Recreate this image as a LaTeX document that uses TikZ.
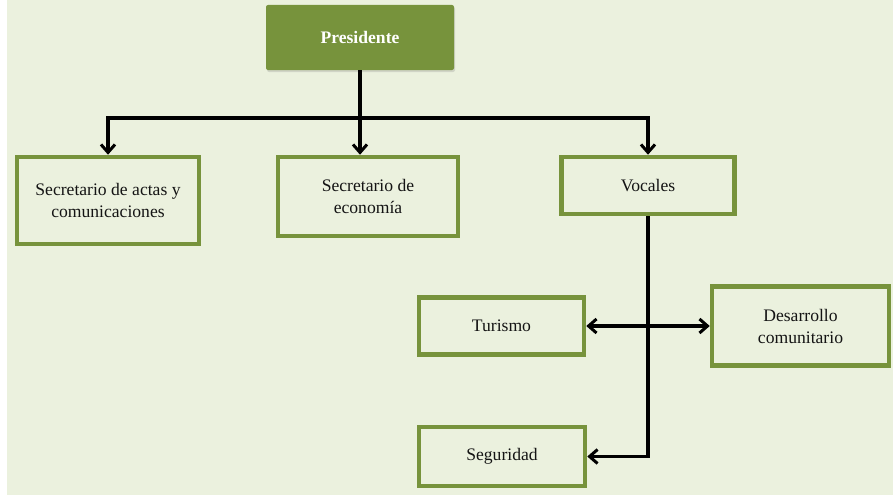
\documentclass[tikz,border=0pt]{standalone}
\usepackage{fontspec}
\setmainfont{Liberation Serif}
\usetikzlibrary{arrows.meta,shadows}

\definecolor{fondo}{HTML}{EBF1DE}
\definecolor{oliva}{HTML}{77933C}
\definecolor{texto}{HTML}{141414}

\begin{document}
\begin{tikzpicture}[x=1pt,y=-1pt,
        caja/.style={draw=oliva,line width=4.5pt,fill=fondo,text=texto,align=center,
            inner sep=0pt,font=\fontsize{17.6}{22}\selectfont,
            drop shadow={shadow xshift=1pt,shadow yshift=-2pt,opacity=0.25}},
        jefe/.style={fill=oliva,rounded corners=2pt,text=white,inner sep=0pt,
            font=\fontsize{17.6}{22}\selectfont\bfseries,
            drop shadow={shadow xshift=1pt,shadow yshift=-2pt,opacity=0.25}},
        linea/.style={line width=3.2pt,black,>={Straight Barb[length=8pt,width=14pt,line width=3pt]}}]
                \useasboundingbox (0,0) rectangle (893,495);
                \fill [fondo] (7,0) rectangle (893,495);
                % nodos
                \node [jefe,minimum width=188pt,minimum height=65pt] (pres) at (360,37.5) {Presidente};
                \node [caja,minimum width=182pt,minimum height=87pt] (actas) at (108,200.5) {Secretario de actas y\\comunicaciones};
                \node [caja,minimum width=180pt,minimum height=79pt] (econ) at (368,196.5) {Secretario de\\econom\'ia};
                \node [caja,minimum width=173pt,minimum height=57pt] (vocales) at (648,185.5) {Vocales};
                \node [caja,minimum width=165pt,minimum height=57pt] (turismo) at (501.5,326) {Turismo};
                \node [caja,minimum width=177pt,minimum height=79pt] (desarrollo) at (800.5,326) {Desarrollo\\comunitario};
                \node [caja,minimum width=166pt,minimum height=59pt] (seguridad) at (502,456.5) {Seguridad};
                \coordinate (bus) at (360,118);
                % conectores
                \draw [linea] (pres.south)--(bus);
                \draw [linea,->] (bus)-|(actas.north);
                \draw [linea,->] (bus)--(bus|-econ.north);
                \draw [linea,->] (bus)-|(vocales.north);
                \draw [linea,->] (vocales.south)|-(seguridad.east);
                \draw [linea,<->] (turismo.east)--(desarrollo.west);
\end{tikzpicture}
\end{document}
